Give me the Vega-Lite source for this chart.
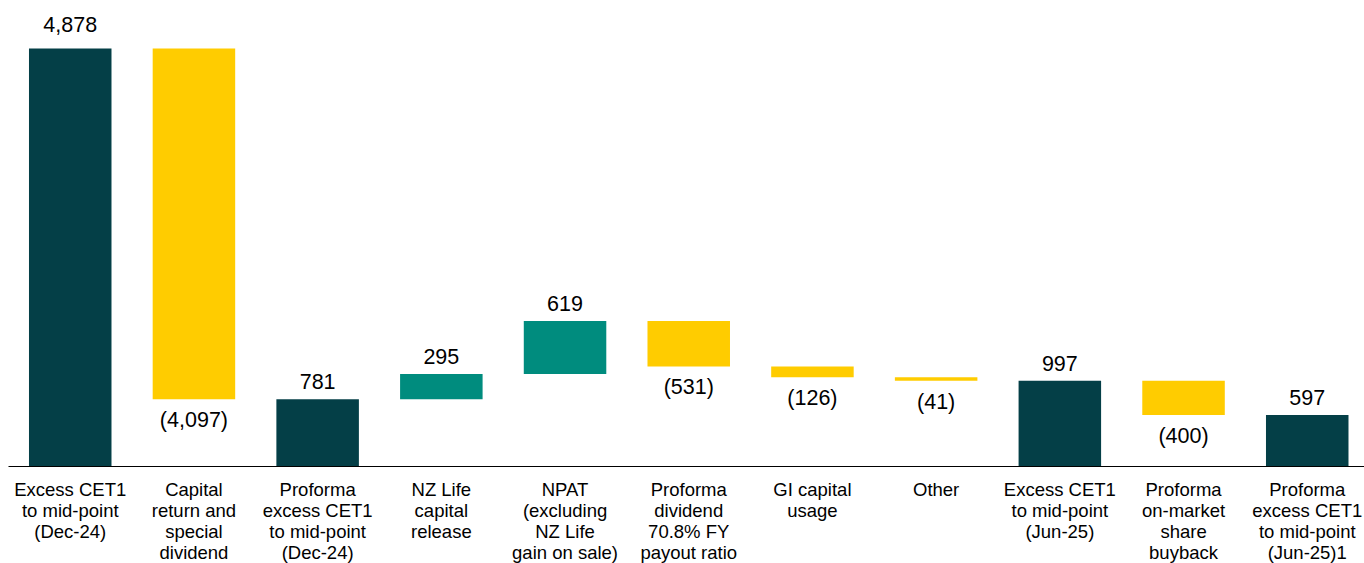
{
  "$schema": "https://vega.github.io/schema/vega-lite/v6.json",
  "autosize": "none",
  "width": 1356,
  "height": 466,
  "padding": {"left": 8, "top": 0, "right": 0, "bottom": 97},
  "background": "white",
  "config": {"view": {"stroke": null}, "font": "Liberation Sans"},
  "data": {
    "values": [
      {"cat": "Excess CET1|to mid-point|(Dec-24)", "start": 0, "end": 4878, "label": "4,878", "kind": "total", "pos": "top"},
      {"cat": "Capital|return and|special|dividend", "start": 4878, "end": 781, "label": "(4,097)", "kind": "down", "pos": "below"},
      {"cat": "Proforma|excess CET1|to mid-point|(Dec-24)", "start": 0, "end": 781, "label": "781", "kind": "total", "pos": "above"},
      {"cat": "NZ Life|capital|release", "start": 781, "end": 1076, "label": "295", "kind": "up", "pos": "above"},
      {"cat": "NPAT|(excluding|NZ Life|gain on sale)", "start": 1076, "end": 1695, "label": "619", "kind": "up", "pos": "above"},
      {"cat": "Proforma|dividend|70.8% FY|payout ratio", "start": 1695, "end": 1164, "label": "(531)", "kind": "down", "pos": "below"},
      {"cat": "GI capital|usage", "start": 1164, "end": 1038, "label": "(126)", "kind": "down", "pos": "below"},
      {"cat": "Other", "start": 1038, "end": 997, "label": "(41)", "kind": "down", "pos": "below"},
      {"cat": "Excess CET1|to mid-point|(Jun-25)", "start": 0, "end": 997, "label": "997", "kind": "total", "pos": "above"},
      {"cat": "Proforma|on-market|share|buyback", "start": 997, "end": 597, "label": "(400)", "kind": "down", "pos": "below"},
      {"cat": "Proforma|excess CET1|to mid-point|(Jun-25)1", "start": 0, "end": 597, "label": "597", "kind": "total", "pos": "above"}
    ]
  },
  "encoding": {
    "x": {
      "field": "cat",
      "type": "nominal",
      "sort": null,
      "scale": {"paddingInner": 0.333, "paddingOuter": 0.1475, "align": 0.575},
      "axis": {
        "title": null,
        "labelAngle": 0,
        "labelExpr": "split(datum.label, '|')",
        "labelFontSize": 18.5,
        "labelLineHeight": 21,
        "labelColor": "#000000",
        "labelPadding": 14,
        "labelFont": "Liberation Sans",
        "labelLimit": 200,
        "labelOverlap": false,
        "ticks": false,
        "domainColor": "#000000",
        "domainWidth": 1,
        "grid": false
      }
    }
  },
  "layer": [
    {
      "mark": {"type": "bar"},
      "encoding": {
        "y": {"field": "start", "type": "quantitative", "scale": {"domain": [0, 5445], "nice": false, "zero": true}, "axis": null},
        "y2": {"field": "end"},
        "color": {
          "field": "kind",
          "type": "nominal",
          "scale": {"domain": ["total", "up", "down"], "range": ["#043f47", "#008c7e", "#ffcc00"]},
          "legend": null
        }
      }
    },
    {
      "transform": [{"filter": "datum.pos === 'above'"}],
      "mark": {"type": "text", "baseline": "alphabetic", "dy": -10, "fontSize": 21.5, "color": "#000000", "font": "Liberation Sans"},
      "encoding": {
        "y": {"field": "end", "type": "quantitative"},
        "text": {"field": "label"}
      }
    },
    {
      "transform": [{"filter": "datum.pos === 'top'"}],
      "mark": {"type": "text", "baseline": "alphabetic", "dy": -17, "fontSize": 21.5, "color": "#000000", "font": "Liberation Sans"},
      "encoding": {
        "y": {"field": "end", "type": "quantitative"},
        "text": {"field": "label"}
      }
    },
    {
      "transform": [{"filter": "datum.pos === 'below'"}],
      "mark": {"type": "text", "baseline": "alphabetic", "dy": 28, "fontSize": 21.5, "color": "#000000", "font": "Liberation Sans"},
      "encoding": {
        "y": {"field": "end", "type": "quantitative"},
        "text": {"field": "label"}
      }
    }
  ]
}
